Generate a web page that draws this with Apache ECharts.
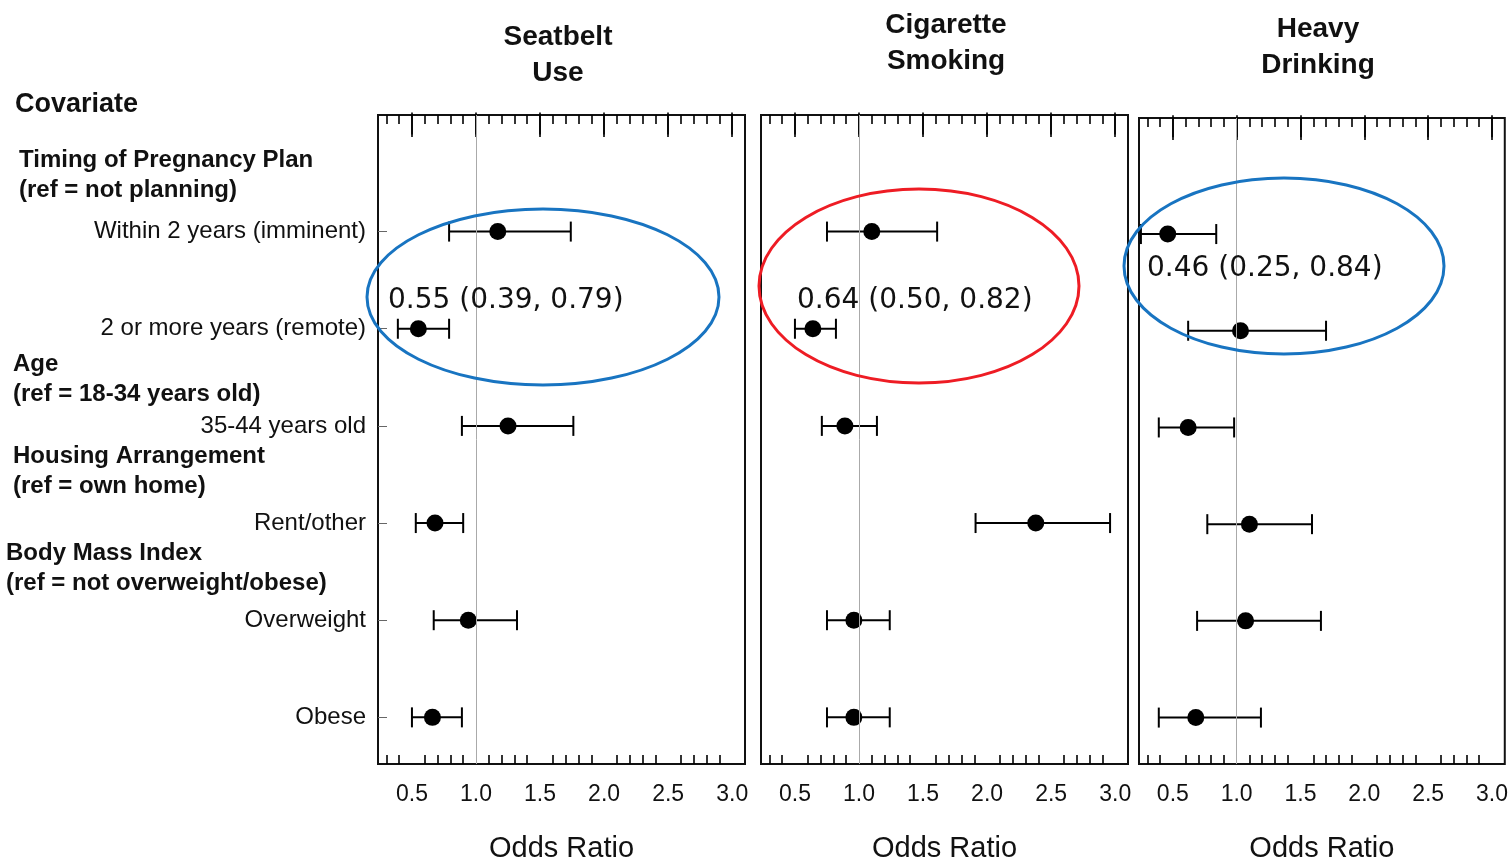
<!DOCTYPE html>
<html>
<head>
<meta charset="utf-8">
<script src="https://cdn.jsdelivr.net/npm/echarts@6/dist/echarts.min.js"></script>
<style>
  html, body { margin: 0; padding: 0; background: #fff; }
  #chart { width: 1511px; height: 868px; }
</style>
</head>
<body>
<div id="chart"></div>
<script>
// rows, top to bottom
const rowLabels = ['Within 2 years (imminent)', '2 or more years (remote)', '35-44 years old',
  'Rent/other', 'Overweight', 'Obese'];
const rowPos = [1, 2, 3, 4, 5, 6];

const panelTitles = ['Seatbelt\nUse', 'Cigarette\nSmoking', 'Heavy\nDrinking'];

// odds ratios with 95% CI
const seatbeltOR = [1.17, 0.55, 1.25, 0.68, 0.94, 0.66];
const seatbeltLow = [0.79, 0.39, 0.89, 0.53, 0.67, 0.50];
const seatbeltHigh = [1.74, 0.79, 1.76, 0.90, 1.32, 0.89];

const smokingOR = [1.10, 0.64, 0.89, 2.38, 0.96, 0.96];
const smokingLow = [0.75, 0.50, 0.71, 1.91, 0.75, 0.75];
const smokingHigh = [1.61, 0.82, 1.14, 2.96, 1.24, 1.24];

const drinkingOR = [0.46, 1.03, 0.62, 1.10, 1.07, 0.68];
const drinkingLow = [0.25, 0.62, 0.39, 0.77, 0.69, 0.39];
const drinkingHigh = [0.84, 1.70, 0.98, 1.59, 1.66, 1.19];

const majorTicks = [0.5, 1.0, 1.5, 2.0, 2.5, 3.0];
const minorTicks = [0.3, 0.4, 0.6, 0.7, 0.8, 0.9, 1.1, 1.2, 1.3, 1.4, 1.6, 1.7, 1.8, 1.9,
  2.1, 2.2, 2.3, 2.4, 2.6, 2.7, 2.8, 2.9];

const highlightText = ['0.55 (0.39, 0.79)', '0.64 (0.50, 0.82)', '0.46 (0.25, 0.84)'];

const panels = [
  {or: seatbeltOR, lo: seatbeltLow, hi: seatbeltHigh},
  {or: smokingOR, lo: smokingLow, hi: smokingHigh},
  {or: drinkingOR, lo: drinkingLow, hi: drinkingHigh}
];

const FONT = '"Liberation Sans", Arial, sans-serif';
const grids = [
  {left: 378, top: 115, width: 367, height: 653},
  {left: 761, top: 115, width: 367, height: 653},
  {left: 1139, top: 118, width: 367, height: 654}
];

const xAxes = [];
const yAxes = [];
const series = [];

grids.forEach(function (g, i) {
  g.show = true;
  g.borderColor = '#111';
  g.borderWidth = 2;
  g.containLabel = false;

  ['bottom', 'top'].forEach(function (pos) {
    // major ticks
    xAxes.push({
      type: 'value', gridIndex: i, position: pos, min: 0.235, max: 3.1,
      axisLine: {show: false}, splitLine: {show: false},
      axisTick: {show: true, inside: true, length: 22, customValues: majorTicks,
        lineStyle: {color: '#000', width: 1.6}},
      axisLabel: {show: pos === 'bottom', customValues: majorTicks, margin: 19,
        formatter: function (v) { return v.toFixed(1); },
        fontSize: 23, fontFamily: FONT, color: '#111'},
      name: pos === 'bottom' ? 'Odds Ratio' : '',
      nameLocation: 'middle', nameGap: 70,
      nameTextStyle: {fontSize: 29, fontFamily: FONT, color: '#111'}
    });
    // minor ticks
    xAxes.push({
      type: 'value', gridIndex: i, position: pos, min: 0.235, max: 3.1,
      axisLine: {show: false}, splitLine: {show: false},
      axisTick: {show: true, inside: true, length: 9, customValues: minorTicks,
        lineStyle: {color: '#000', width: 1.6}},
      axisLabel: {show: false}
    });
  });

  yAxes.push({
    type: 'value', gridIndex: i, inverse: true, min: -0.2, max: 6.48,
    axisLine: {show: false}, splitLine: {show: false},
    axisTick: {show: i === 0, inside: true, length: 9, customValues: rowPos,
      lineStyle: {color: '#666', width: 1}},
    axisLabel: {show: i === 0, customValues: rowPos, margin: 12,
      formatter: function (v) { return rowLabels[Math.round(v) - 1]; },
      fontSize: 24, fontFamily: FONT, color: '#111'}
  });

  const p = panels[i];
  series.push({
    type: 'custom',
    xAxisIndex: i * 4, yAxisIndex: i,
    encode: {x: [0, 1], y: 2},
    data: rowPos.map(function (r, j) { return [p.lo[j], p.hi[j], r]; }),
    renderItem: function (params, api) {
      const a = api.coord([api.value(0), api.value(2)]);
      const b = api.coord([api.value(1), api.value(2)]);
      const st = {stroke: '#000', lineWidth: 2};
      return {
        type: 'group',
        children: [
          {type: 'line', shape: {x1: a[0], y1: a[1], x2: b[0], y2: b[1]}, style: st},
          {type: 'line', shape: {x1: a[0], y1: a[1] - 10, x2: a[0], y2: a[1] + 10}, style: st},
          {type: 'line', shape: {x1: b[0], y1: b[1] - 10, x2: b[0], y2: b[1] + 10}, style: st}
        ]
      };
    },
    z: 3
  });
  series.push({
    type: 'scatter',
    xAxisIndex: i * 4, yAxisIndex: i,
    symbolSize: 17,
    itemStyle: {color: '#000', opacity: 1},
    data: rowPos.map(function (r, j) { return [p.or[j], r]; }),
    markLine: {
      silent: true, symbol: 'none', label: {show: false},
      lineStyle: {color: '#aaa', width: 1, type: 'solid'},
      data: [{xAxis: 1.0}]
    },
    z: 4
  });
});

const graphics = [];
function txt(text, x, y, size, weight, align, family) {
  graphics.push({
    type: 'text', x: x, y: y, z: 50,
    style: {text: text, fontSize: size, fontWeight: weight, fontFamily: family || FONT,
      fill: '#111', align: align, verticalAlign: 'middle', lineHeight: 36}
  });
}

// panel titles
txt(panelTitles[0], 558, 55, 28, 'bold', 'center');
txt(panelTitles[1], 946, 43, 28, 'bold', 'center');
txt(panelTitles[2], 1318, 47, 28, 'bold', 'center');

// covariate headings
txt('Covariate', 15, 105, 27, 'bold', 'left');
txt('Timing of Pregnancy Plan', 19, 160, 24, 'bold', 'left');
txt('(ref = not planning)', 19, 190, 24, 'bold', 'left');
txt('Age', 13, 364, 24, 'bold', 'left');
txt('(ref = 18-34 years old)', 13, 394, 24, 'bold', 'left');
txt('Housing Arrangement', 13, 456, 24, 'bold', 'left');
txt('(ref = own home)', 13, 486, 24, 'bold', 'left');
txt('Body Mass Index', 6, 553, 24, 'bold', 'left');
txt('(ref = not overweight/obese)', 6, 583, 24, 'bold', 'left');

// highlighted estimates
txt(highlightText[0], 388, 301, 28, 'normal', 'left', '"DejaVu Sans", sans-serif');
txt(highlightText[1], 797, 301, 28, 'normal', 'left', '"DejaVu Sans", sans-serif');
txt(highlightText[2], 1147, 269, 28, 'normal', 'left', '"DejaVu Sans", sans-serif');

[[543, 297, 176, 88, '#1874c1'], [919, 286, 160, 97, '#ee1c24'], [1284, 266, 160, 88, '#1874c1']]
  .forEach(function (e) {
    graphics.push({
      type: 'ellipse', z: 60,
      shape: {cx: e[0], cy: e[1], rx: e[2], ry: e[3]},
      style: {fill: 'none', stroke: e[4], lineWidth: 3}
    });
  });

const myChart = echarts.init(document.getElementById('chart'));
myChart.setOption({
  animation: false,
  backgroundColor: '#fff',
  grid: grids,
  xAxis: xAxes,
  yAxis: yAxes,
  series: series,
  graphic: graphics
});
</script>
</body>
</html>
